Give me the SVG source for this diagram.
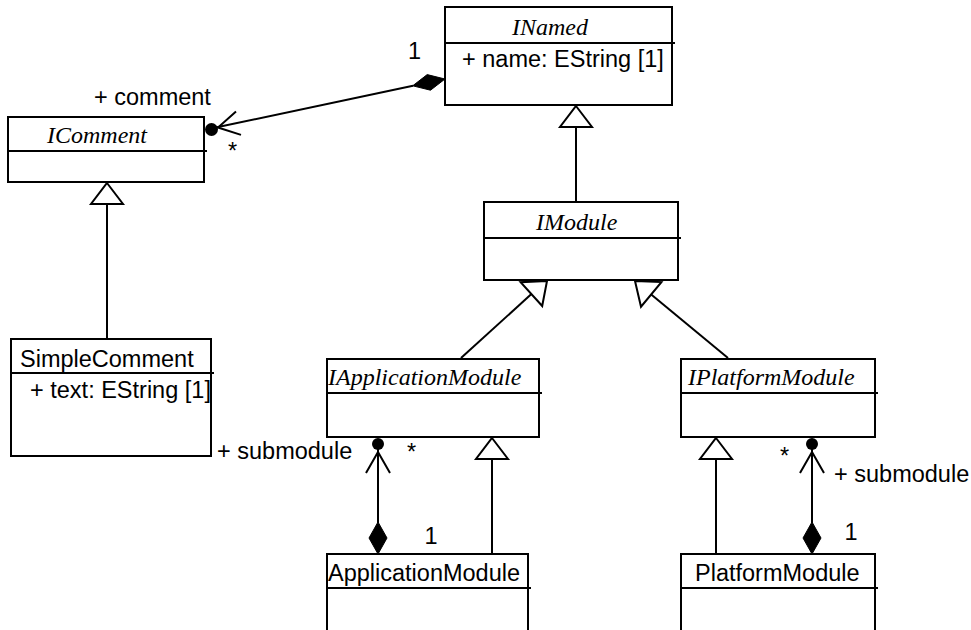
<svg xmlns="http://www.w3.org/2000/svg" width="971" height="630" viewBox="0 0 971 630">
<style>
.box{fill:#fff;stroke:#000;stroke-width:2}
.div{stroke:#000;stroke-width:2}
.t{font-family:"Liberation Serif","Times New Roman",serif;font-style:italic;font-size:24px;fill:#000}
.s{font-family:"Liberation Sans",Arial,sans-serif;font-size:23.5px;fill:#000}
.ln{fill:none;stroke:#000;stroke-width:2}
.tri{fill:#fff;stroke:#000;stroke-width:2;stroke-linejoin:miter}
.dia{fill:#000;stroke:#000;stroke-width:1}
.dot{fill:#000}
</style>
<rect width="971" height="630" fill="#fff"/>
<g id="connectors">
  <!-- IComment - INamed association -->
  <line class="ln" x1="211" y1="128.5" x2="413" y2="85.8"/>
  <polyline class="ln" points="236,111.4 218,127.5 241,134.9"/>
  <circle class="dot" cx="211.5" cy="129.5" r="6.5"/>
  <polygon class="dia" points="445,79 427.2,74.6 412.7,85.8 430.5,90.2"/>
  <!-- SimpleComment -> IComment -->
  <line class="ln" x1="107" y1="339" x2="107" y2="203"/>
  <polygon class="tri" points="107,183 123,204 91,204"/>
  <!-- IModule -> INamed -->
  <line class="ln" x1="576" y1="202" x2="576" y2="126"/>
  <polygon class="tri" points="576,106 592,127 560,127"/>
  <!-- IApplicationModule -> IModule -->
  <line class="ln" x1="461" y1="358" x2="531.4" y2="294.1"/>
  <polygon class="tri" points="547,281 542.2,306 520.6,282.2"/>
  <!-- IPlatformModule -> IModule -->
  <line class="ln" x1="728" y1="358" x2="651.2" y2="294.4"/>
  <polygon class="tri" points="635,281 661.4,282.1 641,306.7"/>
  <!-- ApplicationModule -> IApplicationModule -->
  <line class="ln" x1="492" y1="554" x2="492" y2="458"/>
  <polygon class="tri" points="492,438 508,459 476,459"/>
  <!-- PlatformModule -> IPlatformModule -->
  <line class="ln" x1="716" y1="554" x2="716" y2="458"/>
  <polygon class="tri" points="716,438 732,459 700,459"/>
  <!-- ApplicationModule submodule association -->
  <line class="ln" x1="378" y1="444" x2="378" y2="523"/>
  <polyline class="ln" points="366,473 378,452 390,473"/>
  <circle class="dot" cx="378" cy="444" r="6"/>
  <polygon class="dia" points="378,522 387,538 378,554 369,538"/>
  <!-- PlatformModule submodule association -->
  <line class="ln" x1="812" y1="444" x2="812" y2="523"/>
  <polyline class="ln" points="800,473 812,452 824,473"/>
  <circle class="dot" cx="812" cy="444" r="6"/>
  <polygon class="dia" points="812,522 821,538 812,554 803,538"/>
  <!-- labels -->
  <text class="s" x="408" y="59">1</text>
  <text class="s" x="94" y="105">+ comment</text>
  <text class="s" x="228" y="159">*</text>
  <text class="s" x="217" y="459">+ submodule</text>
  <text class="s" x="407" y="460">*</text>
  <text class="s" x="424.5" y="544">1</text>
  <text class="s" x="780" y="464">*</text>
  <text class="s" x="834" y="482">+ submodule</text>
  <text class="s" x="844.5" y="540">1</text>
</g>
<g id="INamed">
  <rect class="box" x="445" y="7" width="227" height="98"/>
  <line class="div" x1="445" y1="43" x2="675" y2="43"/>
  <text class="t" x="512" y="35">INamed</text>
  <text class="s" x="462" y="67">+ name: EString [1]</text>
</g>
<g id="IComment">
  <rect class="box" x="8" y="117" width="196" height="65"/>
  <line class="div" x1="8" y1="151" x2="207" y2="151"/>
  <text class="t" x="47" y="143">IComment</text>
</g>
<g id="IModule">
  <rect class="box" x="484" y="202" width="194" height="78"/>
  <line class="div" x1="484" y1="238" x2="681" y2="238"/>
  <text class="t" x="536" y="230">IModule</text>
</g>
<g id="SimpleComment">
  <rect class="box" x="11" y="339" width="200" height="117"/>
  <line class="div" x1="11" y1="373" x2="214" y2="373"/>
  <text class="s" x="20" y="367">SimpleComment</text>
  <text class="s" x="30" y="398">+ text: EString [1]</text>
</g>
<g id="IApplicationModule">
  <rect class="box" x="327" y="359" width="212" height="78"/>
  <line class="div" x1="327" y1="393" x2="542" y2="393"/>
  <text class="t" x="328" y="385">IApplicationModule</text>
</g>
<g id="IPlatformModule">
  <rect class="box" x="681" y="359" width="194" height="78"/>
  <line class="div" x1="681" y1="393" x2="878" y2="393"/>
  <text class="t" x="688" y="385">IPlatformModule</text>
</g>
<g id="ApplicationModule">
  <rect class="box" x="327" y="554" width="201" height="100"/>
  <line class="div" x1="327" y1="588" x2="531" y2="588"/>
  <text class="s" x="328" y="581">ApplicationModule</text>
</g>
<g id="PlatformModule">
  <rect class="box" x="681" y="554" width="194" height="100"/>
  <line class="div" x1="681" y1="588" x2="878" y2="588"/>
  <text class="s" x="695" y="581">PlatformModule</text>
</g>
</svg>
